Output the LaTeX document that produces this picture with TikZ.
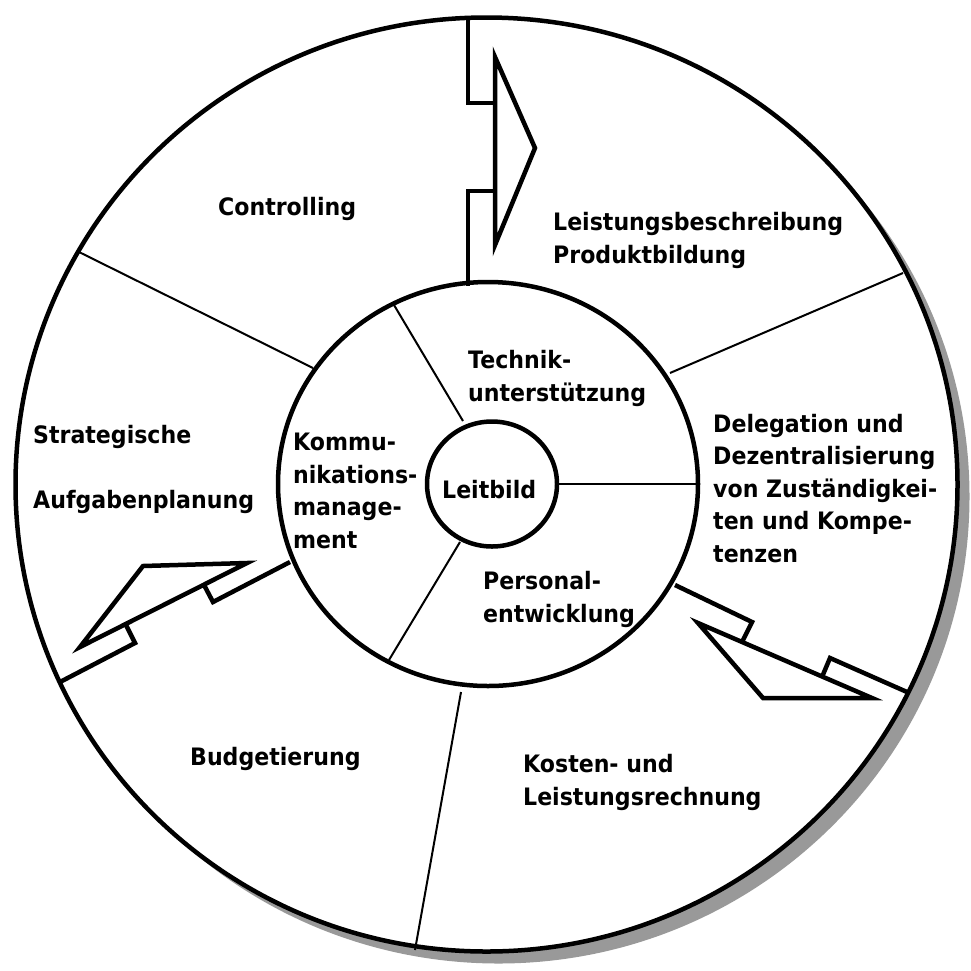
\documentclass[tikz,border=0pt]{standalone}
\usepackage{fontspec}
\setmainfont{DejaVu Sans}[FakeStretch=0.92]
\definecolor{shadowgray}{RGB}{153,153,153}
\begin{document}
\begin{tikzpicture}[x=1pt,y=-1pt,
  rim/.style={line width=4.5pt},
  divider/.style={line width=2pt},
  bolt/.style={line width=4.5pt, line join=miter, line cap=butt},
  % multi-line labels are placed by the baseline of their last line
  lbl/.style={anchor=base west, align=left, inner sep=0pt,
    font=\bfseries\fontsize{24}{32.5}\selectfont}
]
\useasboundingbox (0,0) rectangle (971,970);
\fill[white] (0,0) rectangle (971,970);

% drop shadow and outer disc
\fill[shadowgray] (498.5,496.5) ellipse [x radius=471, y radius=467];
\draw[rim, fill=white] (486.5,484.5) ellipse [x radius=471, y radius=467];

% middle ring and centre
\draw[rim] (488,484) ellipse [x radius=210, y radius=202];
\draw[rim] (492,484) ellipse [x radius=65, y radius=62.5];

% dividers of the outer ring
\coordinate (ur1) at (670,373); \coordinate (ur2) at (903,273);
\coordinate (ul1) at (313,368); \coordinate (ul2) at (79,252);
\coordinate (bt1) at (461,692); \coordinate (bt2) at (415,950);
\draw[divider] (ur1) -- (ur2);
\draw[divider] (ul1) -- (ul2);
\draw[divider] (bt1) -- (bt2);

% dividers of the middle ring
\coordinate (i1a) at (463,421); \coordinate (i1b) at (394,305);
\coordinate (i2a) at (557,484); \coordinate (i2b) at (698,484);
\coordinate (i3a) at (460,542); \coordinate (i3b) at (389,660);
\draw[divider] (i1a) -- (i1b);
\draw[divider] (i2a) -- (i2b);
\draw[divider] (i3a) -- (i3b);

% top bolt arrow
\draw[bolt] (468,17) -- (468,103) -- (495,103);
\draw[bolt] (495,57) -- (535,148) -- (495,245) -- cycle;
\draw[bolt] (495,191) -- (468,191) -- (468,286);

% lower right bolt arrow
\draw[bolt] (675,585) -- (752,622) -- (742,642);
\draw[bolt] (698,623) -- (872,698) -- (763,698) -- cycle;
\draw[bolt] (822,677) -- (830,658) -- (907,692);

% left bolt arrow
\draw[bolt] (290,562) -- (213,602) -- (203,583);
\draw[bolt] (247,563) -- (143,566) -- (80,647) -- cycle;
\draw[bolt] (125,623) -- (135,643) -- (60,682);

% labels
\node[lbl] (controlling) at (218,215) {Controlling};
\node[lbl] (leistung) at (553,263) {Leistungsbeschreibung\\Produktbildung};
\node[lbl] (technik) at (468,401) {Technik-\\unterstützung};
\node[lbl] (delegation) at (713,562) {Delegation und\\Dezentralisierung\\von Zuständigkei-\\ten und Kompe-\\tenzen};
\node[lbl] (strategie) at (33,508) {Strategische\\[32.5pt]Aufgabenplanung};
\node[lbl] (kommunikation) at (293,548) {Kommu-\\nikations-\\manage-\\ment};
\node[lbl] (leitbild) at (442,498) {Leitbild};
\node[lbl] (personal) at (483,622) {Personal-\\entwicklung};
\node[lbl] (budget) at (190,765) {Budgetierung};
\node[lbl] (kosten) at (523,805) {Kosten- und\\Leistungsrechnung};
\end{tikzpicture}
\end{document}
